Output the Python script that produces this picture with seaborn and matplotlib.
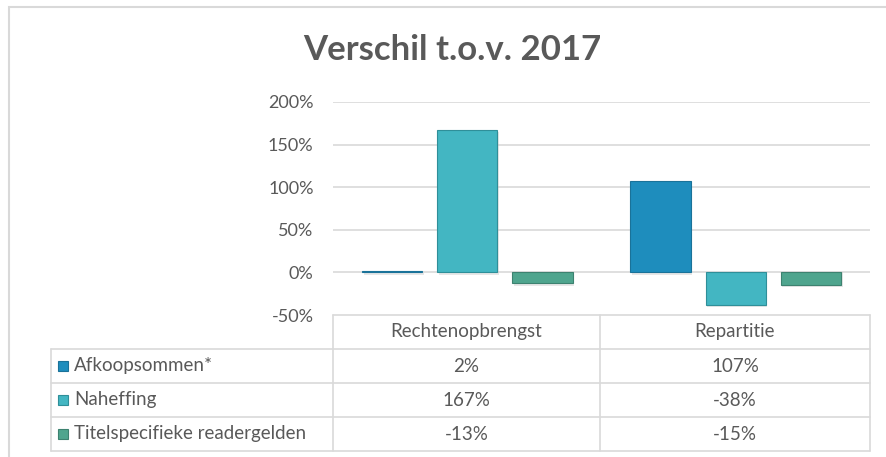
import matplotlib.pyplot as plt
import pandas as pd
import seaborn as sns
from matplotlib.patches import Rectangle

categories = ["Rechtenopbrengst", "Repartitie"]
series = ["Afkoopsommen*", "Naheffing", "Titelspecifieke readergelden"]
afkoopsommen = [2, 107]
naheffing = [167, -38]
titelspecifiek = [-13, -15]
yticks = [-50, 0, 50, 100, 150, 200]
colors = ["#1e8dbd", "#43b6c2", "#4fa58e"]
edge_colors = ["#1a7299", "#2f8f99", "#3d8270"]

values = [afkoopsommen, naheffing, titelspecifiek]
df = pd.DataFrame(
    [(c, s, v[i]) for s, v in zip(series, values) for i, c in enumerate(categories)],
    columns=["Categorie", "Reeks", "Waarde"],
)

sns.set_style("white")
plt.rcParams["font.family"] = ["Lato", "DejaVu Sans"]
text_color = "#595959"
line_color = "#d9d9d9"

fig = plt.figure(figsize=(8.86, 4.57), dpi=100)
ax = fig.add_axes([333 / 886, 1 - 315 / 457, 537 / 886, 213 / 457])

# soft shadow under the bars
sns.barplot(data=df, x="Categorie", y="Waarde", hue="Reeks", hue_order=series,
            palette=["#bbbbbb"] * 3, width=0.84, gap=0.2, ax=ax, legend=False,
            saturation=1, alpha=0.35, linewidth=0, zorder=1)
for p in list(ax.patches):
    p.set_x(p.get_x() + 0.006)
    if p.get_height() >= 0:
        p.set_y(p.get_y() - 2.5)
    else:
        p.set_height(p.get_height() - 2.5)
n_shadow = len(ax.containers)

sns.barplot(data=df, x="Categorie", y="Waarde", hue="Reeks", hue_order=series,
            palette=colors, width=0.84, gap=0.2, ax=ax, legend=False,
            saturation=1, zorder=2)
for cont, ec in zip(ax.containers[n_shadow:], edge_colors):
    for p in cont:
        p.set_edgecolor(ec)
        p.set_linewidth(0.8)

ax.set_ylim(-50, 200)
ax.set_xlim(-0.5, 1.5)
ax.set_yticks(yticks)
ax.set_yticklabels([f"{t}%" for t in yticks], color=text_color, fontsize=13)
ax.tick_params(axis="y", length=0, pad=14)
ax.set_xticks([])
ax.set_xlabel("")
ax.set_ylabel("")
for s in ax.spines.values():
    s.set_visible(False)
for t in yticks[1:]:
    ax.axhline(t, color=line_color, lw=1.2, zorder=0)

# data table below the plot
tr = ax.transAxes
row_h = 34 / 213
x_left, x_mid, x_right = -0.525, 0.497, 1.0
lk = dict(color=line_color, lw=1.2, transform=tr, clip_on=False)
ax.plot([0, x_right], [0, 0], **lk)
for r in range(1, 5):
    ax.plot([x_left, x_right], [-r * row_h, -r * row_h], **lk)
ax.plot([0, 0], [0, -4 * row_h], **lk)
ax.plot([x_mid, x_mid], [0, -4 * row_h], **lk)
ax.plot([x_right, x_right], [0, -4 * row_h], **lk)
ax.plot([x_left, x_left], [-row_h, -4 * row_h], **lk)

col_centers = [x_mid / 2, (x_mid + x_right) / 2]
for c, xc in zip(categories, col_centers):
    ax.text(xc, -0.5 * row_h, c, transform=tr, ha="center", va="center",
            fontsize=13.5, color=text_color)
for r, (s, v, col, ec) in enumerate(zip(series, values, colors, edge_colors)):
    yc = -(r + 1.5) * row_h
    ax.plot([-0.503], [yc], marker="s", ms=7.5, color=col, mec=ec, mew=0.8,
            transform=tr, clip_on=False)
    ax.text(-0.482, yc, s, transform=tr, ha="left", va="center",
            fontsize=13.5, color=text_color)
    for val, xc in zip(v, col_centers):
        ax.text(xc, yc, f"{val}%", transform=tr, ha="center", va="center",
                fontsize=13.5, color=text_color)

fig.text(452 / 886, 1 - 50 / 457, "Verschil t.o.v. 2017", ha="center", va="center",
         fontsize=25, fontweight="bold", color=text_color)

fig.patches.append(Rectangle((9 / 886, -0.1), 1.2, 1 - 7 / 457 + 0.1, transform=fig.transFigure,
                             fill=False, edgecolor=line_color, lw=1.5))

fig.savefig("out.png", dpi=100)
plt.close(fig)
